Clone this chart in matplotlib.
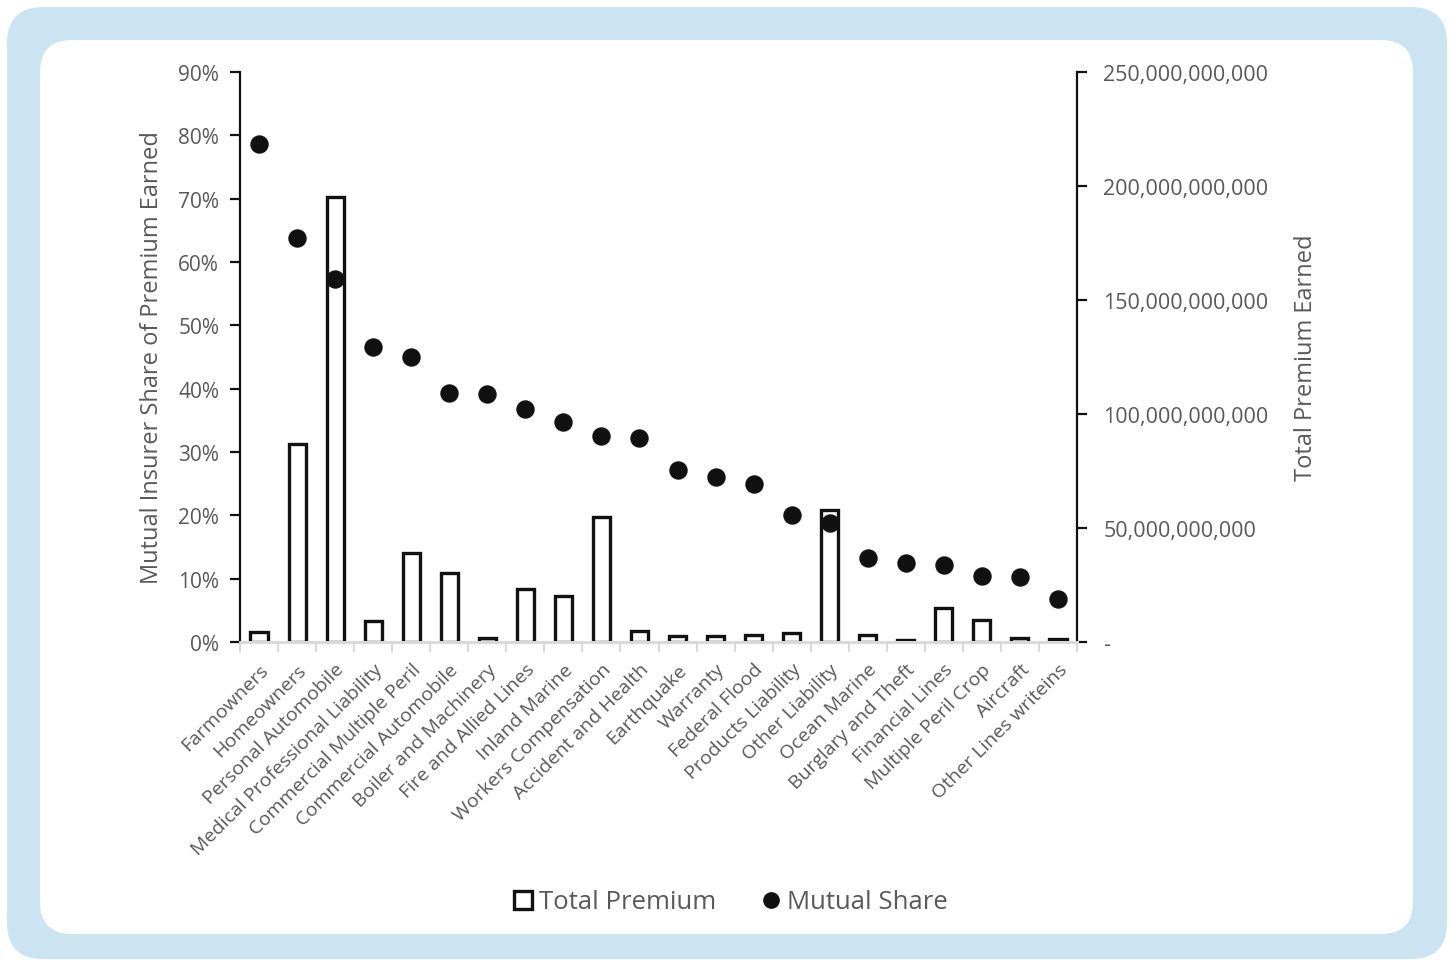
import matplotlib
matplotlib.use("Agg")
import matplotlib.pyplot as plt
from matplotlib.patches import FancyBboxPatch, Rectangle
from matplotlib.lines import Line2D
from matplotlib.ticker import FuncFormatter, PercentFormatter, FixedLocator
import numpy as np

# Lines of business, ordered by mutual insurer share
categories = [
    "Farmowners", "Homeowners", "Personal Automobile",
    "Medical Professional Liability", "Commercial Multiple Peril",
    "Commercial Automobile", "Boiler and Machinery", "Fire and Allied Lines",
    "Inland Marine", "Workers Compensation", "Accident and Health",
    "Earthquake", "Warranty", "Federal Flood", "Products Liability",
    "Other Liability", "Ocean Marine", "Burglary and Theft",
    "Financial Lines", "Multiple Peril Crop", "Aircraft",
    "Other Lines writeins",
]

# Total premium earned (dollars)
total_premium = [
    4.4e9, 86.8e9, 195.0e9, 9.2e9, 39.0e9, 30.3e9, 1.8e9, 23.2e9,
    20.2e9, 54.8e9, 4.8e9, 2.6e9, 2.6e9, 3.1e9, 3.9e9, 57.9e9,
    3.1e9, 0.9e9, 14.9e9, 9.6e9, 1.8e9, 1.3e9,
]

# Mutual insurer share of premium earned (%)
mutual_share = [
    78.6, 63.8, 57.3, 46.6, 45.0, 39.3, 39.2, 36.8, 34.7, 32.5, 32.2,
    27.2, 26.1, 24.9, 20.1, 18.8, 13.3, 12.5, 12.2, 10.4, 10.3, 6.8,
]

TEXT = "#595959"
FRAME = "#CCE4F2"
FONT = "Open Sans"
plt.rcParams["font.family"] = [FONT, "DejaVu Sans"]

W, H = 1452, 962
fig = plt.figure(figsize=(W / 100, H / 100), dpi=100)
fig.patch.set_facecolor("white")

# Rounded light-blue frame with white card inside
def px_box(x0, y0, x1, y1, r, color):
    fig.patches.append(FancyBboxPatch(
        (x0 / W, 1 - y1 / H), (x1 - x0) / W, (y1 - y0) / H,
        boxstyle=f"round,pad=0,rounding_size={r / W}",
        transform=fig.transFigure, facecolor=color, edgecolor="none",
        mutation_aspect=W / H, zorder=-10))

px_box(7, 8, 1447, 960, 36, FRAME)
px_box(40, 41, 1413, 935, 32, "white")

ax_l, ax_r, ax_t, ax_b = 240, 1077, 73, 643
ax = fig.add_axes([ax_l / W, 1 - ax_b / H, (ax_r - ax_l) / W, (ax_b - ax_t) / H])
ax2 = ax.twinx()
ax.set_zorder(ax2.get_zorder() + 1)
ax.patch.set_visible(False)

x = np.arange(len(categories))

# Bars on the right (premium) axis
ax2.bar(x, total_premium, width=0.45, facecolor="white", edgecolor="#111111",
        linewidth=2.4, zorder=2)
ax2.set_ylim(0, 250e9)
ax2.yaxis.set_major_locator(FixedLocator(np.arange(0, 250e9 + 1, 50e9)))
ax2.yaxis.set_major_formatter(FuncFormatter(
    lambda v, p: "-" if v == 0 else f"{v:,.0f}"))

# Dots on the left (share) axis
ax.scatter(x, mutual_share, s=150, color="#111111", zorder=3)
ax.set_ylim(0, 90)
ax.set_xlim(-0.5, len(categories) - 0.5)
ax.yaxis.set_major_locator(FixedLocator(np.arange(0, 91, 10)))
ax.yaxis.set_major_formatter(PercentFormatter(decimals=0))

ax.set_xticks(x)
ax.set_xticklabels(categories, rotation=45, ha="right", rotation_mode="anchor",
                   fontsize=14, color=TEXT)
ax.xaxis.set_minor_locator(FixedLocator(np.arange(-0.5, len(categories), 1.0)))
ax.tick_params(axis="x", which="major", length=0, pad=13)
ax.tick_params(axis="x", which="minor", length=7, width=1.5, color="#D9D9D9")

for a in (ax, ax2):
    a.spines["top"].set_visible(False)
    a.spines["bottom"].set_color("#D9D9D9")
    a.spines["bottom"].set_linewidth(2)
ax.spines["right"].set_visible(False)
ax2.spines["left"].set_visible(False)
ax.spines["left"].set_linewidth(1.6)
ax.spines["left"].set_color("#111111")
ax2.spines["right"].set_linewidth(1.6)
ax2.spines["right"].set_color("#111111")

ax.tick_params(axis="y", length=7, width=1.6, color="#111111", labelsize=15,
               labelcolor=TEXT, pad=8)
ax2.tick_params(axis="y", length=7, width=1.6, color="#111111", labelsize=15.5,
                labelcolor=TEXT, pad=12)
ax2.tick_params(axis="x", length=0)

ax.set_ylabel("Mutual Insurer Share of Premium Earned", fontsize=17,
              color=TEXT, labelpad=10)
ax2.set_ylabel("Total Premium Earned", fontsize=17, color=TEXT, labelpad=18)

handles = [
    Rectangle((0, 0), 1, 1, facecolor="white", edgecolor="#111111", linewidth=2.4),
    Line2D([], [], linestyle="none", marker="o", markersize=11,
           color="#111111"),
]
fig.legend(handles, ["Total Premium", "Mutual Share"], loc="center",
           bbox_to_anchor=(731 / W, 1 - 903 / H), ncol=2, frameon=False,
           fontsize=18.5, labelcolor=TEXT, handlelength=0.7, handleheight=0.7,
           handletextpad=0.25, columnspacing=1.8)

fig.savefig("out.png", dpi=100, facecolor=fig.get_facecolor())
